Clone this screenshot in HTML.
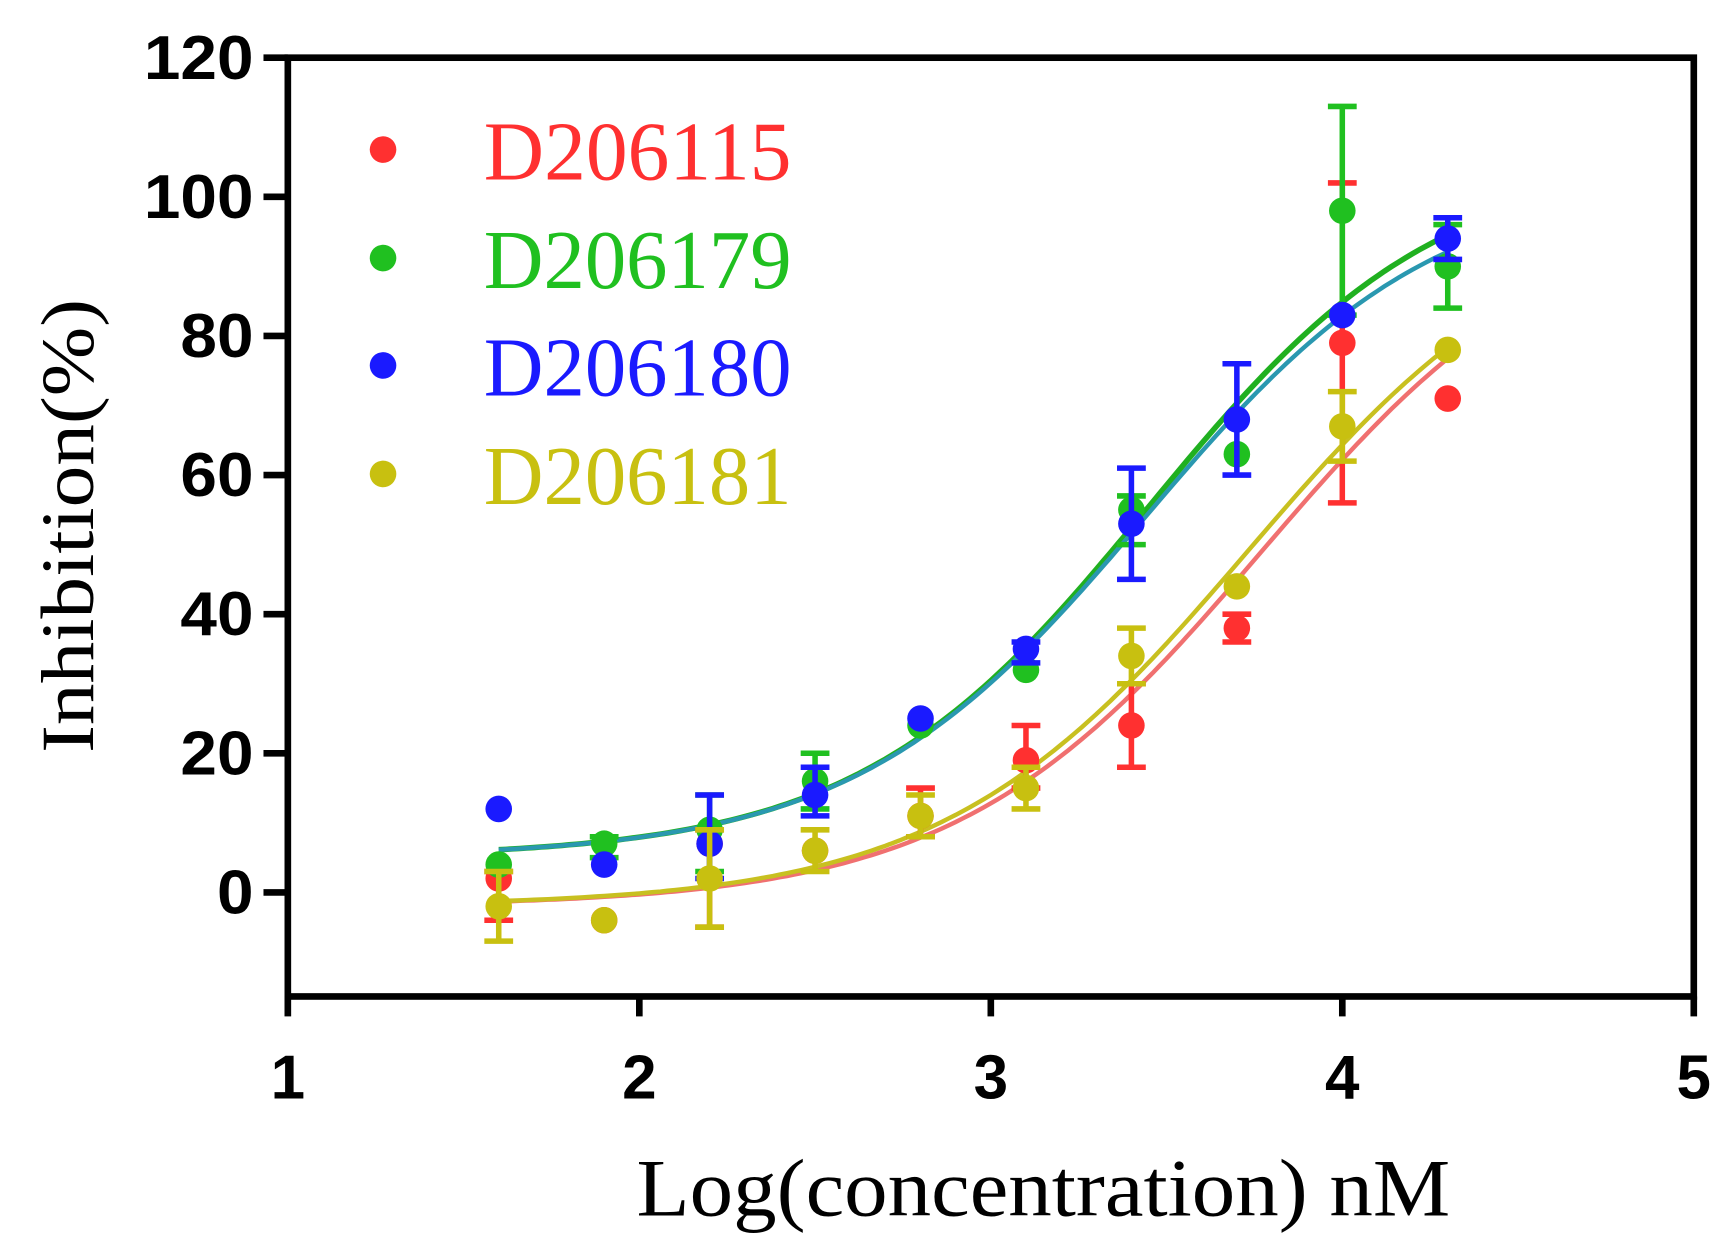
<!DOCTYPE html><html><head><style>html,body{margin:0;padding:0;background:#fff}</style></head><body>
<svg id="s" width="1727" height="1249" viewBox="0 0 1560 1128" xmlns="http://www.w3.org/2000/svg">
<rect width="1560" height="1128" fill="#fff"/>
<g id="g"></g>
</svg>
<script>
const NS="http://www.w3.org/2000/svg",g=document.getElementById('g');
const X=x=>260+(x-1)*317.5, Y=y=>806-y*6.283;
function el(t,a,txt){const e=document.createElementNS(NS,t);for(const k in a)e.setAttribute(k,a[k]);if(txt!=null)e.textContent=txt;g.appendChild(e);return e;}
// axes
el('rect',{x:260,y:52,width:1270,height:848,fill:'none',stroke:'#000','stroke-width':6});
for(let i=0;i<=6;i++){const y=Y(i*20);el('line',{x1:238,y1:y,x2:260,y2:y,stroke:'#000','stroke-width':6});
const s=String(i*20);
el('text',{x:229,y:y+19,'text-anchor':'end','font-family':'Liberation Sans, sans-serif','font-weight':'bold','font-size':56,textLength:s.length*33,lengthAdjust:'spacingAndGlyphs'},s);}
for(let i=1;i<=5;i++){const x=X(i);el('line',{x1:x,y1:900,x2:x,y2:918,stroke:'#000','stroke-width':6});
el('text',{x:x,y:992,'text-anchor':'middle','font-family':'Liberation Sans, sans-serif','font-weight':'bold','font-size':56},String(i));}
el('text',{x:575,y:1098,'font-family':'Liberation Serif, serif','font-size':74,textLength:735,lengthAdjust:'spacingAndGlyphs'},'Log(concentration) nM');
el('text',{x:0,y:0,transform:'translate(84,680) rotate(-90)','font-family':'Liberation Serif, serif','font-size':68,textLength:410,lengthAdjust:'spacingAndGlyphs'},'Inhibition(%)');
// curves
function curve(b,t,ec,h,col,w){let d='';for(let x=1.6;x<=4.31;x+=0.02){const y=b+(t-b)/(1+Math.pow(10,(ec-x)*h));d+=(d?'L':'M')+X(x).toFixed(1)+','+Y(y).toFixed(1);}el('path',{d,fill:'none',stroke:col,'stroke-width':w});}
curve(5,106,3.45,1.05,'#20b020',5);
curve(5,103,3.44,1.05,'#2a98b0',4);
curve(-2,100,3.77,1.0,'#f07070',4);
curve(-2,100,3.73,1.0,'#c8c020',4);
const xs=[1.6,1.9,2.2,2.5,2.8,3.1,3.4,3.7,4.0,4.3];
const S=[
 ['#ff3030',[[2,-4,3],[-4],[7,-5,9],[6],[11,8,15],[19,15,24],[24,18,30],[38,36,40],[79,56,102],[71]]],
 ['#20c020',[[4],[7,5,8],[9,3,14],[16,12,20],[24],[32],[55,50,57],[63],[98,83,113],[90,84,96]]],
 ['#1a1aff',[[12],[4],[7,2,14],[14,11,18],[25],[35,33,36],[53,45,61],[68,60,76],[83],[94,91,97]]],
 ['#c8c010',[[-2,-7,3],[-4],[2,-5,9],[6,3,9],[11,8,14],[15,12,18],[34,30,38],[44],[67,62,72],[78]]]
];
for(const [c,pts] of S){pts.forEach((p,i)=>{const x=X(xs[i]);
 if(p.length>1){el('line',{x1:x,y1:Y(p[1]),x2:x,y2:Y(p[2]),stroke:c,'stroke-width':5});
  for(const v of [p[1],p[2]])el('line',{x1:x-13,y1:Y(v),x2:x+13,y2:Y(v),stroke:c,'stroke-width':5});}
 el('circle',{cx:x,cy:Y(p[0]),r:12,fill:c});});}
// legend
const L=[['D206115','#ff3030',135],['D206179','#20c020',233],['D206180','#1a1aff',330],['D206181','#c8c010',428]];
for(const [t,c,y] of L){el('circle',{cx:346,cy:y,r:12,fill:c});
 el('text',{x:437,y:y+27,'font-family':'Liberation Serif, serif','font-size':76,fill:c,textLength:278,lengthAdjust:'spacingAndGlyphs'},t);}
</script>
</body></html>
